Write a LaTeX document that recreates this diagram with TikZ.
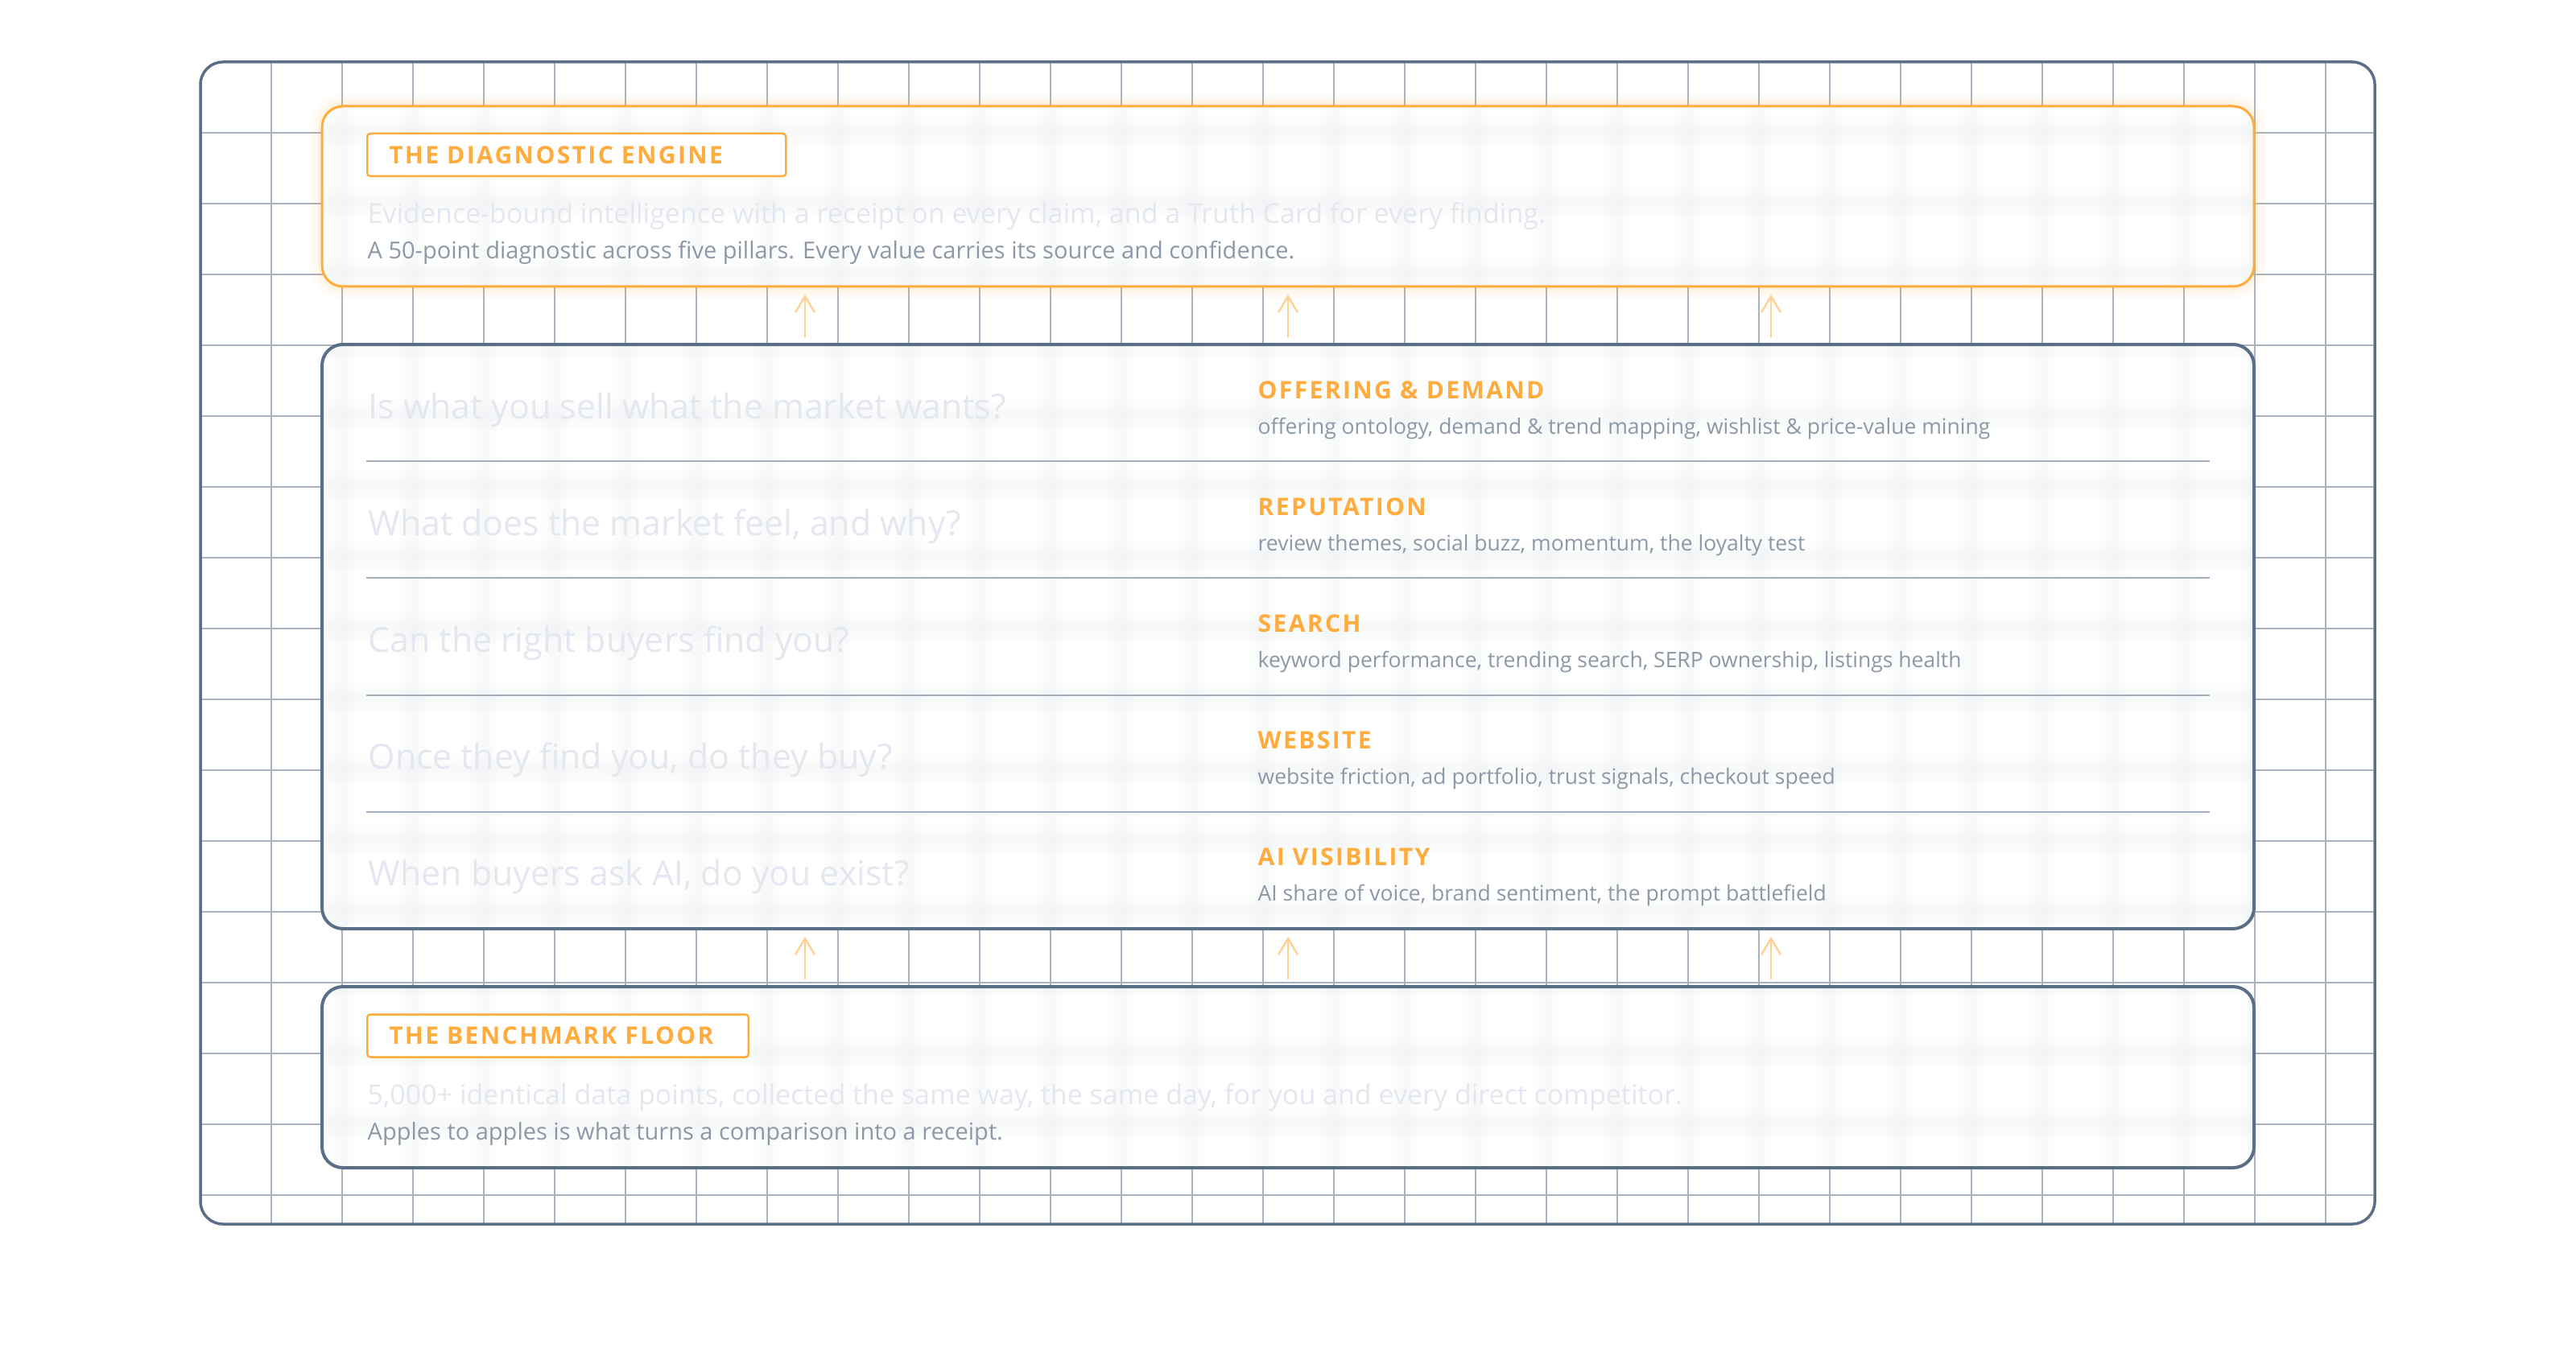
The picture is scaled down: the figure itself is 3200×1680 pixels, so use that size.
\documentclass[tikz,border=0pt]{standalone}
\usepackage{fontspec}
\setmainfont{Open Sans}
\newfontfamily\tagfont{Open Sans}[LetterSpace=8]
\usetikzlibrary{arrows.meta}

\definecolor{frameslate}{HTML}{5B6E87}
\definecolor{gridgray}{HTML}{A9B4C2}
\definecolor{hazegray}{HTML}{E6EAEE}
\definecolor{boxorange}{HTML}{FFAB3D}
\definecolor{liftorange}{HTML}{FFD08F}
\definecolor{faintgray}{HTML}{E4E7EF}
\definecolor{notegray}{HTML}{8D98A7}
\definecolor{rulegray}{HTML}{A3AEBC}

\tikzset{
  gridline/.style={draw=gridgray, line width=0.45pt},
  haze/.style={draw=hazegray, draw opacity=0.09},
  panel/.style={fill=white, minimum width=720pt, inner sep=0pt, outer sep=0pt, rounded corners=7.8pt},
  rim/.style={draw=frameslate, line width=1.2pt, rounded corners=7.8pt},
  tag/.style={draw=boxorange, line width=0.75pt, rounded corners=1.2pt, fill=white,
    inner xsep=8.1pt, inner ysep=0pt, minimum height=15.9pt, anchor=west, align=left,
    text=boxorange, font=\tagfont\bfseries\fontsize{9}{10}\selectfont},
  lead/.style={anchor=base west, inner sep=0pt, text=faintgray, font=\fontsize{10.2}{12}\selectfont},
  note/.style={anchor=base west, inner sep=0pt, text=notegray, font=\fontsize{8.7}{10}\selectfont},
  question/.style={anchor=base west, inner sep=0pt, text=faintgray, font=\fontsize{12.85}{15}\selectfont},
  pillar/.style={anchor=base west, inner sep=0pt, text=boxorange, font=\tagfont\bfseries\fontsize{9}{10}\selectfont},
  detail/.style={anchor=base west, inner sep=0pt, text=notegray, font=\fontsize{7.95}{9}\selectfont},
  rowrule/.style={draw=rulegray, line width=0.6pt},
  lift/.style={draw=liftorange, line width=0.7pt, -{Straight Barb[length=6pt,width=7.2pt]}}
}

\begin{document}
\begin{tikzpicture}[x=0.3pt, y=-0.3pt]
  \useasboundingbox (0,0) rectangle (3200,1680);

  % background grid and frame
  \foreach \k in {1,...,30} \draw[gridline] (249+88*\k,77) -- ++(0,1444);
  \foreach \k in {1,...,16} \draw[gridline] (249,77+88*\k) -- ++(2701,0);
  \draw[draw=frameslate, line width=1.05pt, rounded corners=8.4pt] (249,77) rectangle (2950,1521);

  % glow round the engine
  \foreach \g/\o in {9/0.04, 6/0.05, 3/0.07}
    \draw[draw=boxorange, opacity=\o, line width=\g pt, rounded corners=7.8pt] (400,132) rectangle (2800,356);

  % panels
  \node[panel, minimum height=67.2pt] (engine) at (1600,244) {};
  \node[panel, minimum height=217.8pt] (pillars) at (1600,791) {};
  \node[panel, minimum height=67.5pt] (floor) at (1600,1338.5) {};

  % grid seen blurred through the glass
  \foreach \p in {engine,pillars,floor}{
    \begin{scope}
      \clip[rounded corners=7.8pt] (\p.north west) rectangle (\p.south east);
      \foreach \w in {10,7,4}{
        \foreach \k in {1,...,30} \draw[haze, line width=\w pt] (249+88*\k,77) -- ++(0,1444);
        \foreach \k in {1,...,16} \draw[haze, line width=\w pt] (249,77+88*\k) -- ++(2701,0);
      }
    \end{scope}
  }

  \draw[rim, draw=boxorange, line width=0.9pt] (engine.north west) rectangle (engine.south east);
  \draw[rim] (pillars.north west) rectangle (pillars.south east);
  \draw[rim] (floor.north west) rectangle (floor.south east);

  % engine
  \node[tag, text width=139.8pt] (enginetag) at (455,192.5) {THE DIAGNOSTIC ENGINE};
  \node[lead] (enginelead) at (456,278) {Evidence-bound intelligence with a receipt on every claim, and a Truth Card for every finding.};
  \node[note] (enginenote) at (456,322) {A 50-point diagnostic across five pillars. Every value carries its source and confidence.};

  % five pillars
  \foreach \q/\t/\d [count=\i] in {
    {Is what you sell what the market wants?}/{OFFERING \& DEMAND}/{offering ontology, demand \& trend mapping, wishlist \& price-value mining},
    {What does the market feel, and why?}/{REPUTATION}/{review themes, social buzz, momentum, the loyalty test},
    {Can the right buyers find you?}/{SEARCH}/{keyword performance, trending search, SERP ownership, listings health},
    {Once they find you, do they buy?}/{WEBSITE}/{website friction, ad portfolio, trust signals, checkout speed},
    {When buyers ask AI, do you exist?}/{AI VISIBILITY}/{AI share of voice, brand sentiment, the prompt battlefield}}{
    \pgfmathsetmacro{\top}{428+145.2*(\i-1)}
    \node[question] (q\i) at (457,\top+92) {\q};
    \node[pillar] (t\i) at (1562,\top+67) {\t};
    \node[detail] (d\i) at (1562,\top+111) {\d};
  }
  \foreach \i in {1,...,4}
    \draw[rowrule] (455,428+145.2*\i) -- (2745,428+145.2*\i);

  % floor
  \node[tag, text width=125.9pt] (floortag) at (455,1287) {THE BENCHMARK FLOOR};
  \node[lead] (floorlead) at (456,1372) {5,000+ identical data points, collected the same way, the same day, for you and every direct competitor.};
  \node[note] (floornote) at (456,1416) {Apples to apples is what turns a comparison into a receipt.};

  % arrows up the stack
  \foreach \dx in {-180,0,180}{
    \draw[lift] ([xshift=\dx pt, yshift=2.7pt]pillars.north) -- ([xshift=\dx pt, yshift=-3pt]engine.south);
    \draw[lift] ([xshift=\dx pt, yshift=2.7pt]floor.north) -- ([xshift=\dx pt, yshift=-3pt]pillars.south);
  }
\end{tikzpicture}
\end{document}
